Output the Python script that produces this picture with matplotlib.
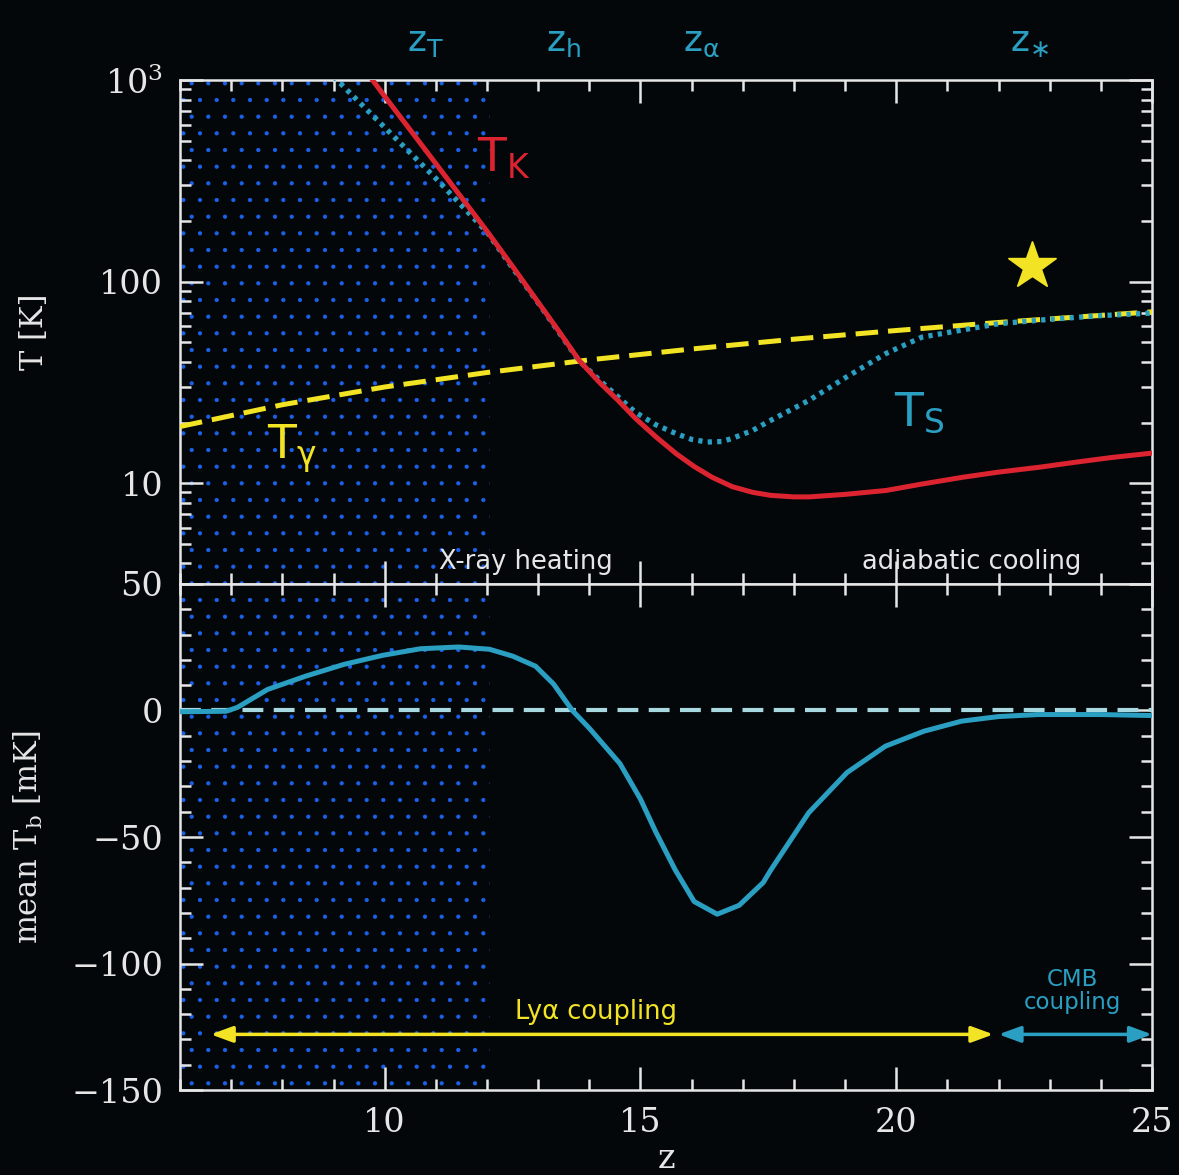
import matplotlib
matplotlib.use("Agg")
import matplotlib.pyplot as plt
from matplotlib.ticker import MultipleLocator, FixedLocator, FixedFormatter, LogLocator, NullFormatter

# ---
# Data.
# Kinetic temperature T_K [K]
z_kin = [9.5, 10.0, 11.0, 12.0, 12.5, 13.0, 13.4, 13.8, 14.2, 14.56, 14.9, 15.3,
         15.7, 16.05, 16.4, 16.8, 17.2, 17.55, 18.0, 18.3, 19.0, 19.8, 20.5,
         21.3, 22.0, 22.8, 23.5, 24.2, 25.0]
T_kin = [1230, 830, 385, 178, 119, 79, 57, 40.7, 31.6, 25.8, 21.0, 17.0,
         14.0, 12.1, 10.7, 9.6, 9.0, 8.7, 8.55, 8.55, 8.8, 9.2, 9.9,
         10.7, 11.35, 12.0, 12.7, 13.4, 14.1]

# Spin temperature T_S [K]
z_spin = [9.0, 10.0, 11.0, 12.0, 12.5, 13.0, 13.8, 14.2, 14.9, 15.3, 15.7, 16.0,
          16.3, 16.6, 16.8, 17.2, 17.5, 18.3, 19.0, 19.8, 20.5, 21.3, 22.0,
          23.0, 24.0, 25.0]
T_spin = [1040, 582, 325, 176, 117, 78.5, 40.5, 32.4, 22.5, 19.5, 17.6, 16.5,
          16.0, 16.1, 16.7, 18.3, 20.2, 25.8, 33.3, 44.0, 53.0, 57.6, 61.8,
          65.0, 67.8, 69.8]

# CMB temperature T_gamma [K]
z_cmb = [6.0, 8.0, 10.0, 12.0, 14.0, 16.0, 18.0, 20.0, 22.0, 25.0]
T_cmb = [19.1, 24.5, 30.0, 35.4, 40.9, 46.3, 51.8, 57.2, 62.7, 70.8]

# mean brightness temperature [mK]
z_tb = [6.0, 6.9, 7.12, 7.71, 8.46, 9.2, 9.96, 10.7, 11.45, 12.05, 12.5,
        12.95, 13.3, 13.67, 14.0, 14.3, 14.6, 15.0, 15.3, 15.68, 16.05, 16.5,
        16.93, 17.4, 17.55, 18.29, 19.04, 19.79, 20.54, 21.28, 22.0, 22.77,
        24.0, 25.0]
Tb = [-0.5, -0.3, 1.2, 8.3, 13.6, 18.2, 21.8, 24.4, 25.1, 24.2, 21.5,
      17.5, 10.5, 0.0, -7.0, -14.0, -21.0, -35.0, -48.0, -63.0, -75.5, -80.5,
      -77.0, -68.0, -63.0, -40.4, -24.5, -14.1, -8.2, -4.2, -2.4, -1.6,
      -1.6, -2.0]

# characteristic redshifts marked above the plot
z_marks = [10.8, 13.5, 16.2, 22.6]
z_mark_labels = [r'$\mathregular{z_T}$', r'$\mathregular{z_h}$',
                 r'$\mathregular{z_\alpha}$', r'$\mathregular{z_{\ast}}$']

# x-ray heated region, coupling ranges
z_heat = [6.0, 12.05]
z_lya = [6.6, 21.9]
z_cmbc = [22.0, 25.0]
y_arrow = -128
z_star, T_star = 22.66, 120


# ---
bg = '#04070a'
fg = '#e6e6e6'
red = '#dc2430'
cyan = '#2a9fc2'
yellow = '#f2e424'
dotblue = '#1a62ea'

plt.rcParams['hatch.linewidth'] = 0.6
fig = plt.figure(figsize=(11.79, 11.75), dpi=100, facecolor=bg)
ax1 = fig.add_axes([0.1527, 0.5030, 0.8244, 0.4289], facecolor=bg)
ax2 = fig.add_axes([0.1527, 0.0723, 0.8244, 0.4307], facecolor=bg, sharex=ax1)

for ax in (ax1, ax2):
    ax.axvspan(z_heat[0], z_heat[1], facecolor='none', edgecolor=dotblue,
               hatch='.', linewidth=0, zorder=0)
    for s in ax.spines.values():
        s.set_color(fg)
        s.set_linewidth(1.8)
    ax.tick_params(which='both', direction='in', colors=fg, width=1.8,
                   top=True, right=True, labelsize=24, pad=12)
    ax.tick_params(which='major', length=16.5)
    ax.tick_params(which='minor', length=8)

# --- top panel
ax1.set_yscale('log')
ax1.plot(z_cmb, T_cmb, color=yellow, lw=3.6, ls=(0, (4.5, 2.0)), zorder=3)
ax1.plot(z_spin, T_spin, color=cyan, lw=3.8, ls=(0, (0.8, 1.0)), zorder=4)
ax1.plot(z_kin, T_kin, color=red, lw=3.6, zorder=5)
ax1.plot([z_star], [T_star], marker='*', color=yellow, markersize=36, ls='none')

ax1.set_xlim(6, 25)
ax1.set_ylim(10 ** 0.5, 1000)
ax1.yaxis.set_major_locator(FixedLocator([10, 100, 1000]))
ax1.yaxis.set_major_formatter(FixedFormatter(['10', '100', r'$\mathregular{10^3}$']))
ax1.yaxis.set_minor_locator(LogLocator(base=10, subs=range(2, 10)))
ax1.yaxis.set_minor_formatter(NullFormatter())
ax1.xaxis.set_major_locator(MultipleLocator(5))
ax1.xaxis.set_minor_locator(MultipleLocator(1))
ax1.tick_params(labelbottom=False)
for lab in ax1.get_yticklabels():
    lab.set_fontfamily('DejaVu Serif')
ax1.set_ylabel('T [K]', color=fg, fontsize=22, fontfamily='DejaVu Serif')
ax1.yaxis.set_label_coords(-0.134, 0.5)

ax1.text(12.34, 409, r'$\mathregular{T_K}$', color=red, fontsize=34, ha='center', va='center')
ax1.text(8.18, 14.9, r'$\mathregular{T_\gamma}$', color=yellow, fontsize=34, ha='center', va='center')
ax1.text(20.45, 22.2, r'$\mathregular{T_S}$', color=cyan, fontsize=34, ha='center', va='center')
ax1.text(12.77, 4.06, 'X-ray heating', color=fg, fontsize=18.5, ha='center', va='center')
ax1.text(21.48, 4.06, 'adiabatic cooling', color=fg, fontsize=18.5, ha='center', va='center')
for zm, lab in zip(z_marks, z_mark_labels):
    ax1.text(zm, 1.075, lab, color=cyan, fontsize=26, ha='center', va='center',
             transform=ax1.get_xaxis_transform())

# --- bottom panel
ax2.axhline(0, color='#a8d8e0', lw=3.0, ls=(0, (5, 2.5)), zorder=3)
ax2.plot(z_tb, Tb, color=cyan, lw=3.6, zorder=4)
ax2.set_ylim(-150, 50)
ax2.yaxis.set_major_locator(MultipleLocator(50))
ax2.yaxis.set_minor_locator(MultipleLocator(10))
for lab in ax2.get_xticklabels() + ax2.get_yticklabels():
    lab.set_fontfamily('DejaVu Serif')
ax2.set_ylabel(r'mean $\mathregular{T_b}$ [mK]', color=fg, fontsize=22,
               fontfamily='DejaVu Serif')
ax2.yaxis.set_label_coords(-0.139, 0.5)
ax2.set_xlabel('z', color=fg, fontsize=24, fontfamily='DejaVu Serif')
ax2.xaxis.set_label_coords(0.5, -0.105)

astyle = '<|-|>,head_length=0.6,head_width=0.22'
ax2.annotate('', xy=(z_lya[1], y_arrow), xytext=(z_lya[0], y_arrow),
             arrowprops=dict(arrowstyle=astyle, color=yellow, lw=2.5,
                             mutation_scale=22, shrinkA=0, shrinkB=0))
ax2.annotate('', xy=(z_cmbc[1], y_arrow), xytext=(z_cmbc[0], y_arrow),
             arrowprops=dict(arrowstyle=astyle, color=cyan, lw=2.5,
                             mutation_scale=22, shrinkA=0, shrinkB=0))
ax2.text(14.14, -119.2, 'Lyα coupling', color=yellow, fontsize=18.5, ha='center', va='center')
ax2.text(23.44, -111, 'CMB\ncoupling', color=cyan, fontsize=16.5, ha='center',
         va='center', linespacing=1.0)

fig.savefig('out.png', dpi=100, facecolor=bg)
